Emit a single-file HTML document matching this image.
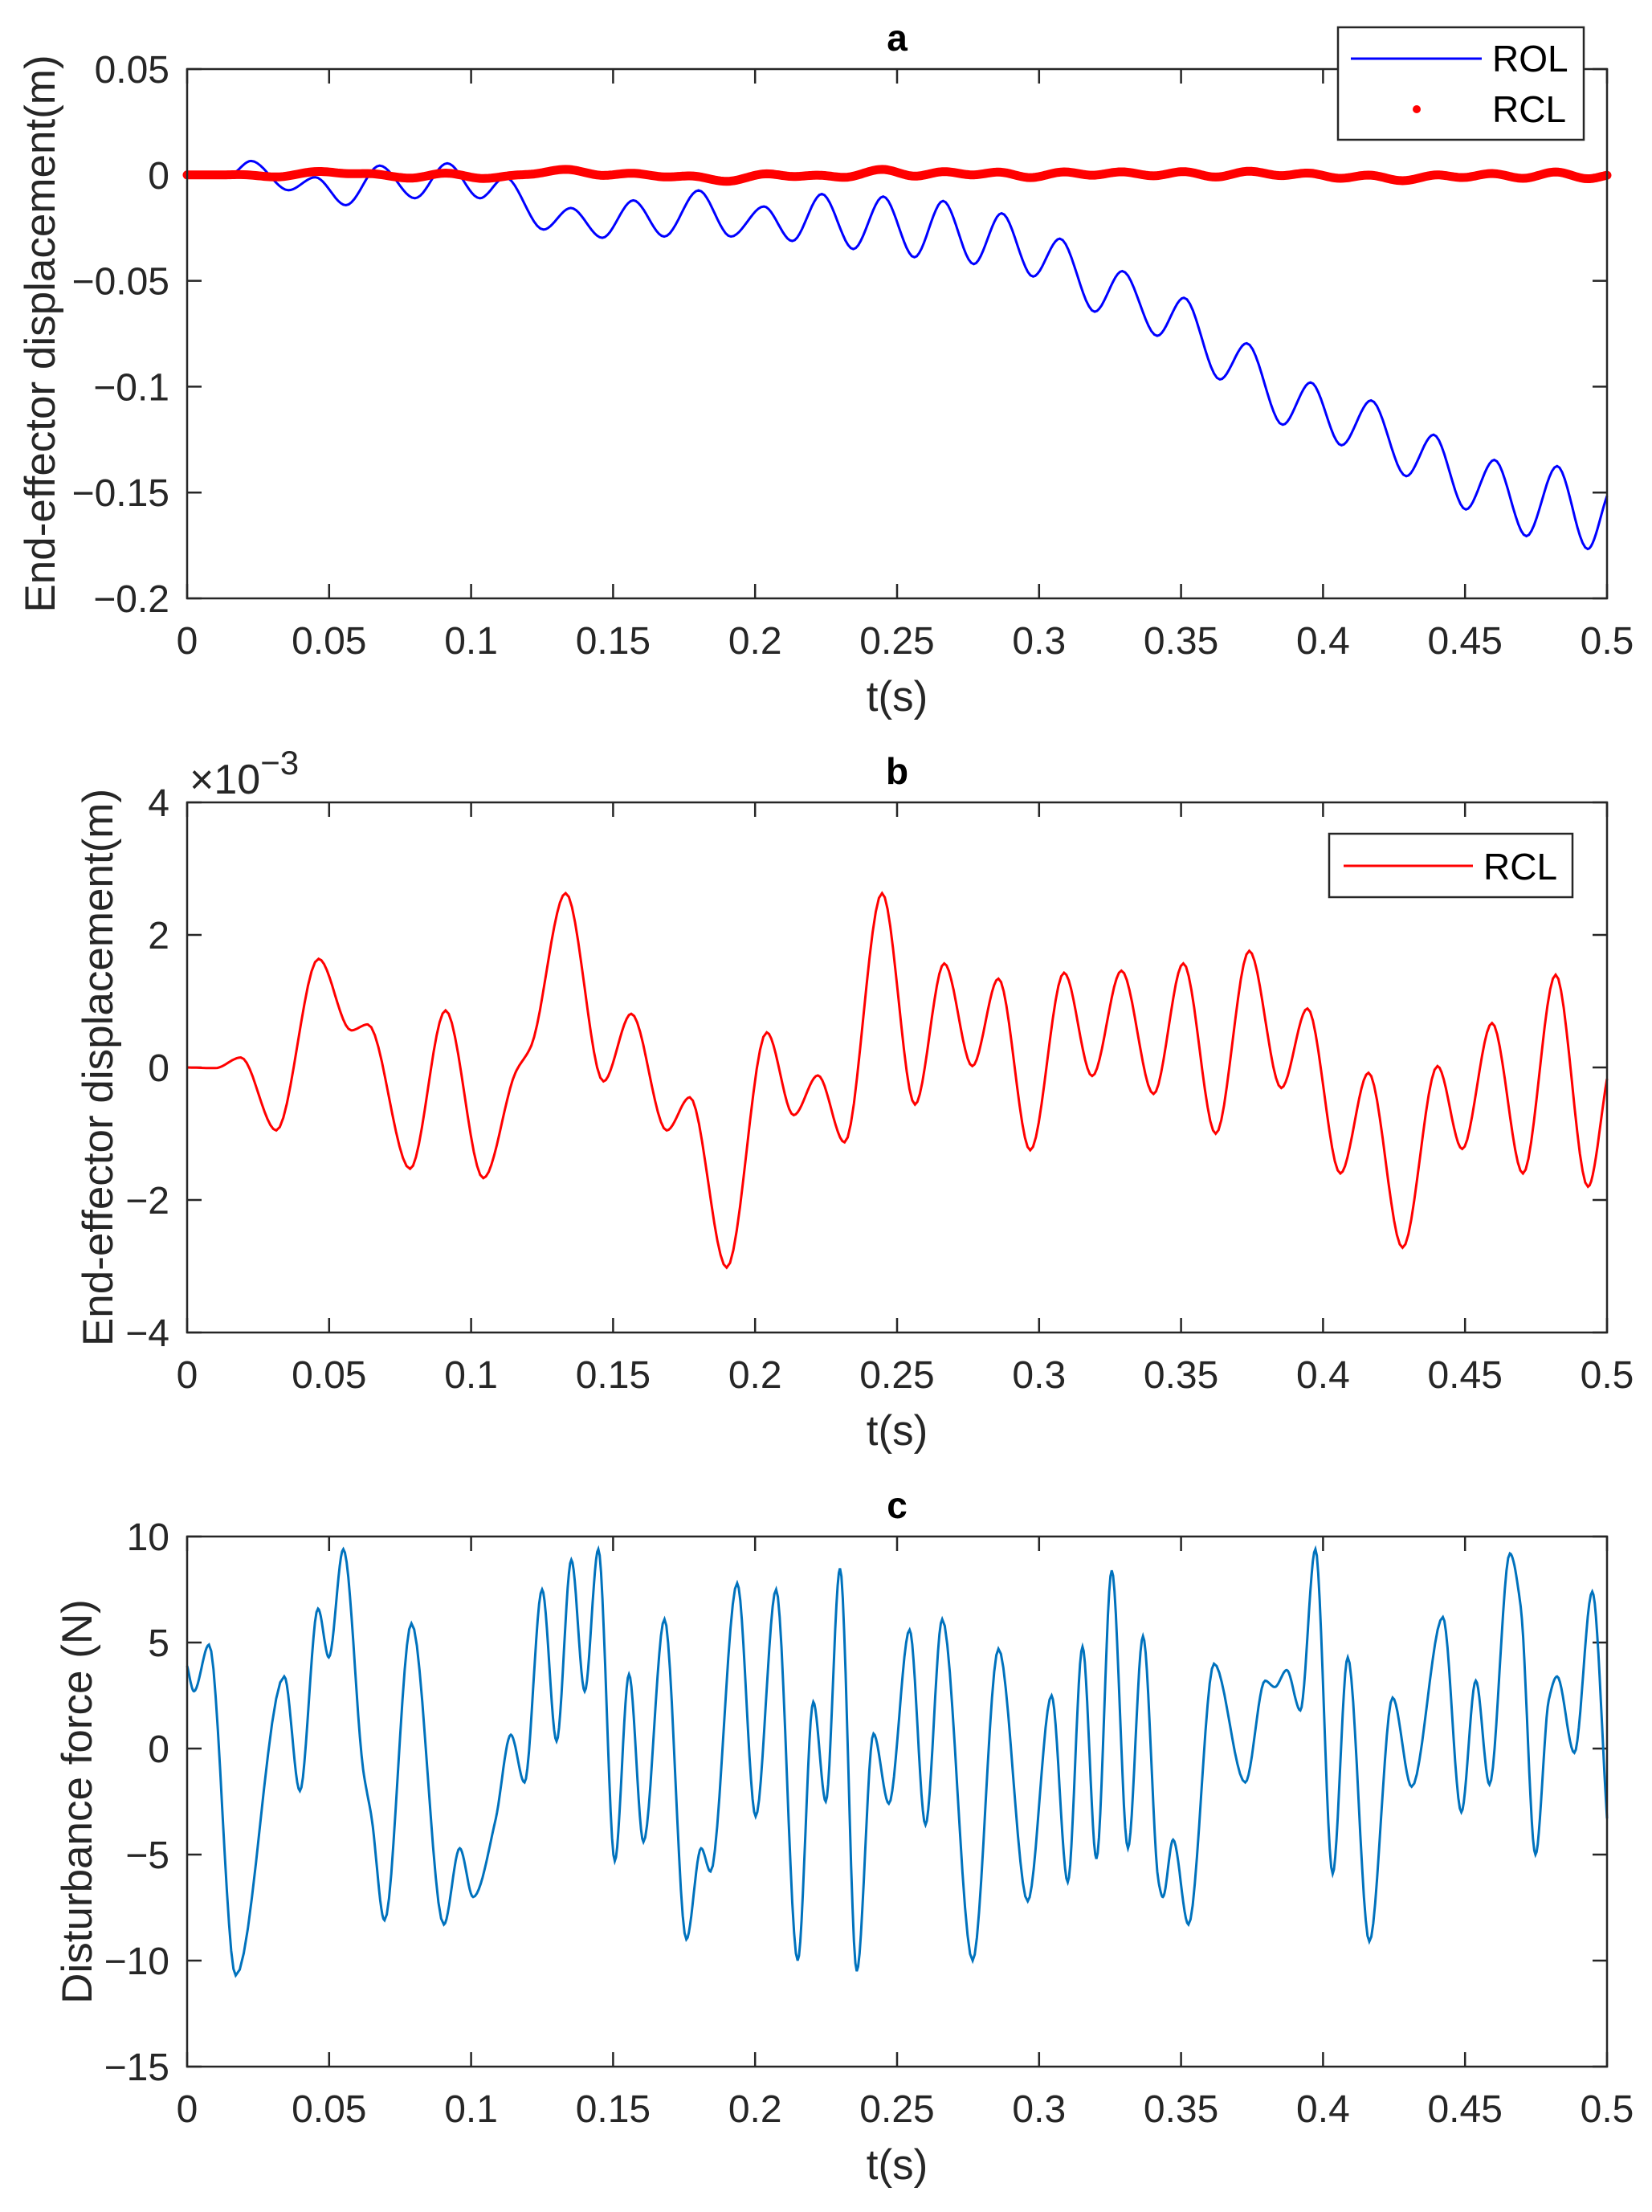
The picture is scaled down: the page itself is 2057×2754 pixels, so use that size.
<!DOCTYPE html>
<html><head><meta charset="utf-8"><style>
html,body{margin:0;padding:0;background:#fff;}
svg{display:block;}
text{font-family:"Liberation Sans",Arial,sans-serif;fill:#262626;}
</style></head>
<body>
<svg id="fig" width="2057" height="2754" viewBox="0 0 2057 2754" xmlns="http://www.w3.org/2000/svg"></svg>
<script>
// ---- Data (time in s) ----
// Panel a: ROL end-effector displacement (m), extrema
const rolT = [0,0.0149,0.0225,0.0357,0.0451,0.0559,0.0678,0.0802,0.0916,0.1031,0.112,0.1255,0.1351,0.1462,0.1571,0.168,0.1801,0.1915,0.2031,0.2131,0.2235,0.2346,0.2451,0.2561,0.2662,0.277,0.2868,0.2979,0.3073,0.3196,0.3293,0.3416,0.351,0.3637,0.3731,0.3858,0.3956,0.4065,0.4169,0.4293,0.4389,0.4503,0.4603,0.4716,0.4824,0.4932,0.5];
const rolV = [0,0,0.0066,-0.0072,-0.0011,-0.0143,0.0044,-0.011,0.0055,-0.011,-0.0011,-0.0258,-0.0156,-0.0297,-0.012,-0.0291,-0.0073,-0.0291,-0.0149,-0.0312,-0.009,-0.035,-0.0102,-0.0389,-0.0123,-0.0421,-0.0181,-0.048,-0.0301,-0.0646,-0.0454,-0.076,-0.058,-0.0966,-0.0795,-0.118,-0.098,-0.1277,-0.1065,-0.1423,-0.1227,-0.158,-0.1346,-0.1706,-0.1375,-0.1767,-0.1516];
// Panel b: RCL end-effector displacement (x1e-3 m)
const rclT = [0,0.0099,0.0189,0.0314,0.0463,0.0578,0.0636,0.0785,0.091,0.1043,0.1156,0.1212,0.1333,0.1466,0.1564,0.1689,0.177,0.19,0.2041,0.2136,0.2221,0.2315,0.2447,0.2563,0.2666,0.2765,0.2857,0.2969,0.3088,0.3187,0.329,0.3403,0.3508,0.3622,0.374,0.3853,0.3945,0.4061,0.416,0.428,0.4403,0.449,0.4595,0.4704,0.4819,0.4933,0.5];
const rclV = [0,-0.01,0.15,-0.95,1.64,0.56,0.65,-1.53,0.86,-1.67,-0.08,0.33,2.63,-0.21,0.81,-0.95,-0.45,-3.02,0.53,-0.72,-0.12,-1.13,2.63,-0.56,1.57,0.02,1.34,-1.25,1.43,-0.13,1.46,-0.40,1.57,-1.0,1.76,-0.31,0.89,-1.6,-0.08,-2.72,0.02,-1.23,0.67,-1.6,1.40,-1.8,-0.17];
// Panel c: disturbance force (N)
const fT = [0,0.0024,0.0077,0.0171,0.0342,0.0397,0.0461,0.0499,0.055,0.062,0.065,0.0695,0.079,0.0904,0.096,0.1007,0.1087,0.114,0.1188,0.125,0.1301,0.1353,0.14,0.1448,0.1506,0.1556,0.1607,0.1681,0.1758,0.181,0.1843,0.1937,0.2002,0.2074,0.215,0.2205,0.2249,0.2299,0.2358,0.2417,0.2471,0.2544,0.26,0.2659,0.2766,0.2857,0.296,0.3044,0.3101,0.3153,0.3202,0.3256,0.3313,0.3366,0.3421,0.3436,0.3472,0.3526,0.3616,0.3726,0.3796,0.383,0.3872,0.392,0.3973,0.4034,0.4087,0.4163,0.4245,0.4312,0.4422,0.4487,0.4538,0.4586,0.4658,0.4696,0.4748,0.4795,0.4824,0.4885,0.4948,0.5];
const fV = [3.9,2.7,4.9,-10.7,3.4,-2.0,6.6,4.3,9.4,-1.0,-3.3,-8.1,5.9,-8.3,-4.7,-7.0,-3.3,0.65,-1.6,7.5,0.35,8.9,2.7,9.4,-5.3,3.5,-4.4,6.1,-9.0,-4.7,-5.8,7.8,-3.2,7.5,-10.0,2.2,-2.5,8.5,-10.5,0.7,-2.6,5.6,-3.6,6.1,-10.0,4.7,-7.2,2.5,-6.3,4.8,-5.2,8.4,-4.7,5.3,-6.3,-7.0,-4.3,-8.3,4.0,-1.6,3.2,2.9,3.7,1.8,9.4,-5.9,4.3,-9.1,2.4,-1.8,6.2,-3.0,3.2,-1.7,9.2,6.7,-5.0,2.3,3.4,-0.2,7.4,-3.3];
// tick labels
const xTicks = [0,0.05,0.1,0.15,0.2,0.25,0.3,0.35,0.4,0.45,0.5];
const xTickLabels = ["0","0.05","0.1","0.15","0.2","0.25","0.3","0.35","0.4","0.45","0.5"];
const aTicks = [0.05,0,-0.05,-0.1,-0.15,-0.2];
const aTickLabels = ["0.05","0","\u22120.05","\u22120.1","\u22120.15","\u22120.2"];
const bTicks = [4,2,0,-2,-4];
const bTickLabels = ["4","2","0","\u22122","\u22124"];
const cTicks = [10,5,0,-5,-10,-15];
const cTickLabels = ["10","5","0","\u22125","\u221210","\u221215"];

const NS = "http://www.w3.org/2000/svg";
const svg = document.getElementById('fig');
function mk(tag, attrs, parent) {
  const e = document.createElementNS(NS, tag);
  for (const k in attrs) e.setAttribute(k, attrs[k]);
  (parent || svg).appendChild(e);
  return e;
}
function smoothPath(ts, vs, sx, sy) {
  const n = ts.length, m = new Array(n), d = [];
  for (let i = 0; i < n - 1; i++) d.push((vs[i+1]-vs[i])/(ts[i+1]-ts[i]));
  m[0] = d[0]; m[n-1] = d[n-2];
  for (let i = 1; i < n - 1; i++) {
    if (d[i-1]*d[i] <= 0) m[i] = 0;
    else { const w1 = 2*(ts[i+1]-ts[i])+(ts[i]-ts[i-1]), w2 = (ts[i+1]-ts[i])+2*(ts[i]-ts[i-1]); m[i] = (w1+w2)/(w1/d[i-1]+w2/d[i]); }
  }
  let p = "M" + sx(ts[0]).toFixed(1) + "," + sy(vs[0]).toFixed(1);
  for (let i = 0; i < n - 1; i++) {
    const h = ts[i+1]-ts[i];
    for (let k = 1; k <= 12; k++) {
      const s = k/12, s2 = s*s, s3 = s2*s;
      const v = (2*s3-3*s2+1)*vs[i] + (s3-2*s2+s)*h*m[i] + (-2*s3+3*s2)*vs[i+1] + (s3-s2)*h*m[i+1];
      p += "L" + sx(ts[i]+s*h).toFixed(1) + "," + sy(v).toFixed(1);
    }
  }
  return p;
}

const L = 233, R = 2001;
function panel(name, top, bot, ymin, ymax, yTicks, yLabels, title, ylabel, ylabelX) {
  const g = mk('g', {});
  
  
  const sx = t => L + (t - 0) / 0.5 * (R - L);
  const sy = v => bot - (v - ymin) / (ymax - ymin) * (bot - top);
  xTicks.forEach((t, i) => {
    const x = sx(t);
    const tk = mk('path', {d:`M${x},${bot}v-18M${x},${top}v18`, stroke:'#262626', 'stroke-width':2.5}, g);
    
    
    const tl = mk('text', {x:x, y:bot+69, 'text-anchor':'middle', 'font-size':48}, g);
    
    
    tl.textContent = xTickLabels[i];
  });
  yTicks.forEach((v, i) => {
    const y = sy(v);
    const tk = mk('path', {d:`M${L},${y}h18M${R},${y}h-18`, stroke:'#262626', 'stroke-width':2.5}, g);
    
    
    const tl = mk('text', {x:L-22, y:y+17, 'text-anchor':'end', 'font-size':48}, g);
    
    
    tl.textContent = yLabels[i];
  });
  const ti = mk('text', {x:(L+R)/2, y:top-23, 'text-anchor':'middle', 'font-size':46, 'font-weight':'bold', style:'fill:#000'}, g);
  
  
  ti.textContent = title;
  const xl = mk('text', {x:(L+R)/2, y:bot+140, 'text-anchor':'middle', 'font-size':53}, g);
  
  
  xl.textContent = 't(s)';
  const cy = (top+bot)/2;
  const yl = mk('text', {x:ylabelX, y:cy, 'text-anchor':'middle', 'font-size':53, transform:`rotate(-90 ${ylabelX} ${cy})`}, g);
  
  
  yl.textContent = ylabel;
  return {g, sx, sy, top, bot};
}
function frame(p) {
  const f = mk('rect', {x:L, y:p.top, width:R-L, height:p.bot-p.top, fill:'none', stroke:'#262626', 'stroke-width':2.5}, p.g);
  
  
}

// Panel a
const pa = panel('panel-a', 86, 745, -0.2, 0.05, aTicks, aTickLabels, 'a', 'End-effector displacement(m)', 68);
const rol = mk('path', {d:smoothPath(rolT, rolV, pa.sx, pa.sy), fill:'none', stroke:'#0000ff', 'stroke-width':3}, pa.g);


const rclA = mk('path', {d:smoothPath(rclT, rclV.map(v=>v*1e-3), pa.sx, pa.sy), fill:'none', stroke:'#ff0000', 'stroke-width':11, 'stroke-linecap':'round', 'stroke-linejoin':'round'}, pa.g);


frame(pa);
const lgA = mk('g', {}, pa.g);


mk('rect', {x:1666, y:34, width:306, height:140, fill:'#fff', stroke:'#262626', 'stroke-width':2.5}, lgA);
const le1 = mk('path', {d:'M1682,73H1845', stroke:'#0000ff', 'stroke-width':3}, lgA);


const lt1 = mk('text', {x:1858, y:89, 'font-size':46, style:'fill:#000'}, lgA);


lt1.textContent = 'ROL';
const ld2 = mk('circle', {cx:1764, cy:136, r:5, fill:'#ff0000'}, lgA);


const lt2 = mk('text', {x:1858, y:152, 'font-size':46, style:'fill:#000'}, lgA);


lt2.textContent = 'RCL';

// Panel b
const pb = panel('panel-b', 999, 1659, -4, 4, bTicks, bTickLabels, 'b', 'End-effector displacement(m)', 140);
const rclB = mk('path', {d:smoothPath(rclT, rclV, pb.sx, pb.sy), fill:'none', stroke:'#ff0000', 'stroke-width':3}, pb.g);


frame(pb);
const ex = mk('text', {x:236, y:988, 'font-size':52}, pb.g);


ex.innerHTML = '\u00d710<tspan dy="-24" font-size="42">\u22123</tspan>';
const lgB = mk('g', {}, pb.g);


mk('rect', {x:1655, y:1038, width:303, height:79, fill:'#fff', stroke:'#262626', 'stroke-width':2.5}, lgB);
const lb1 = mk('path', {d:'M1673,1078H1834', stroke:'#ff0000', 'stroke-width':3}, lgB);


const lbt = mk('text', {x:1847, y:1095, 'font-size':46, style:'fill:#000'}, lgB);


lbt.textContent = 'RCL';

// Panel c
const pc = panel('panel-c', 1913, 2573, -15, 10, cTicks, cTickLabels, 'c', 'Disturbance force (N)', 114);
const fl = mk('path', {d:smoothPath(fT, fV, pc.sx, pc.sy), fill:'none', stroke:'#0072bd', 'stroke-width':3}, pc.g);


frame(pc);
</script>
</body></html>
